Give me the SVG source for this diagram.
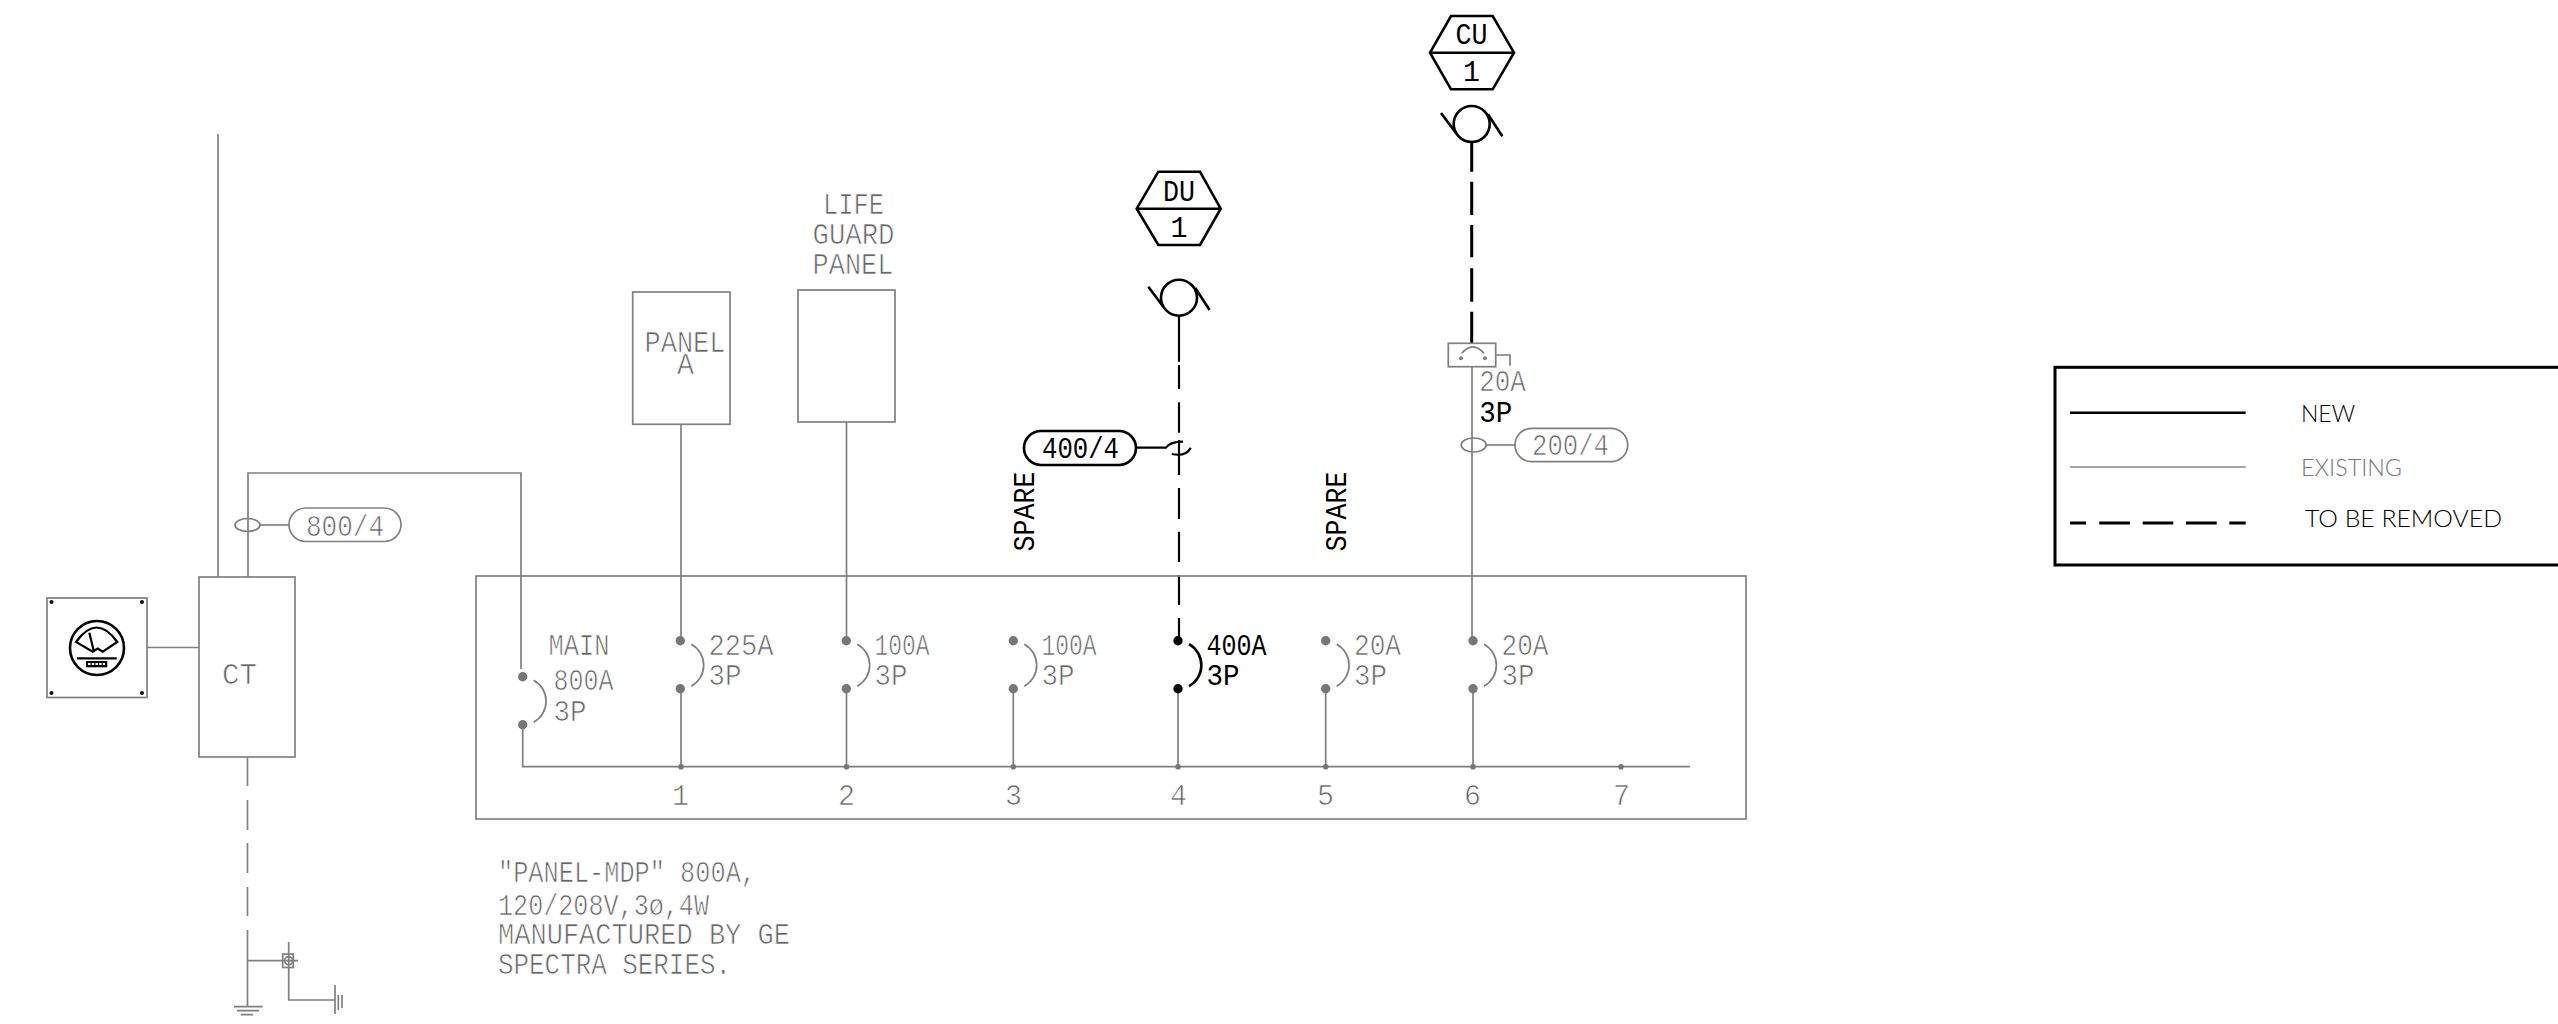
<svg xmlns="http://www.w3.org/2000/svg" xmlns:xlink="http://www.w3.org/1999/xlink" width="2558" height="1024" viewBox="0 0 2558 1024">
<defs>
<style>
.g{fill:none;stroke:#808080;stroke-width:1.7}
.k{fill:none;stroke:#000;stroke-width:2.6}
.kf{fill:none;stroke:#000;stroke-width:2.2}
text{font-family:"Liberation Mono",monospace;font-size:30px}
.tg{fill:#666;stroke:#fff;stroke-width:.7}
.tk{fill:#000}
.lg{font-family:"Lato","Open Sans",sans-serif;font-size:24px;font-weight:300;stroke:none}
</style>
<g id="brk-g"><path class="g" d="M11 3.5A24 24 0 0 1 11 45.500"/><circle r="4.700" fill="#777"/><circle cy="48" r="4.700" fill="#777"/></g>
<g id="brk-k"><path class="k" d="M11 3.5A24 24 0 0 1 11 45.500"/><circle r="4.700" fill="#000"/><circle cy="48" r="4.700" fill="#000"/></g>
<g id="sw"><circle cx="0" cy="0" r="18"/><path d="M-30.700 -11L-15.700 9M16.300 -9.700L30.600 12.300"/></g>
</defs>

<rect width="2558" height="1024" fill="#fff"/>

<g id="connectors">
<path class="g" d="M218 134V577M248 577V473H521V669"/>
<path class="g" d="M147 647.500H199"/>
<path class="g" d="M247.500 757V786M247.500 800V830M247.500 843V873M247.500 887V916M247.500 930V1006.700"/>
<path class="g" d="M247.500 960.700H298M288.700 942V1000H335"/>
<path class="g" d="M522.700 724.700V766.700H1690"/>
<path class="g" d="M681 424.300V640.700M681 688.700V766.700"/>
<path class="g" d="M846.500 422V640.700M846.500 688.700V766.700"/>
<path class="g" d="M1013.300 688.700V766.700"/>
<path class="g" d="M1178 688.700V766.700"/>
<path class="g" d="M1325.700 688.700V766.700"/>
<path class="g" d="M1472 366.700V640.700M1473 688.700V766.700"/>
<path class="kf" d="M1179 316V361.700M1179 365V389M1179 402.300V432.700M1179 440V475M1179 488V519M1179 531.700V562M1179 575V605M1179 618V640"/>
<path class="k" style="stroke-width:3" d="M1471.700 142V171.700M1471.700 181.700V215M1471.700 225V257.300M1471.700 268.300V301.700M1471.700 311.700V343.300"/>
<path class="g" d="M260 525H289"/>
<path class="g" d="M1486 445H1515"/>
<path class="kf" d="M1136 447.700H1166Q1170 441.700 1183 441.700M1171.700 454Q1186 457 1190.700 447.700"/>
</g>

<g id="meter">
<rect class="g" x="47" y="598" width="100" height="99.500"/>
<g fill="#111"><circle cx="51.500" cy="602" r="2"/><circle cx="142" cy="602" r="2"/><circle cx="51.500" cy="693" r="2"/><circle cx="142" cy="693" r="2"/></g>
<circle class="k" cx="97" cy="648" r="27"/>
<path class="kf" d="M76 642Q96.700 613 117.300 642L102.700 651.700L97.700 648.500L92.700 651.700ZM89.300 632.700L94 651.700"/>
<path class="kf" d="M77 658.300H116.700"/>
<rect x="86" y="661" width="21.300" height="6.300" fill="#000"/>
<path d="M88 664H105" stroke="#fff" stroke-width="2.200" stroke-dasharray="2.500 1.200" fill="none"/>
</g>

<g id="ct">
<rect class="g" x="199" y="577" width="96" height="180"/>
<text class="tg" x="222" y="684" textLength="35" lengthAdjust="spacingAndGlyphs">CT</text>
</g>

<g id="wire-800-4">
<ellipse class="g" cx="247.500" cy="525" rx="12.500" ry="6.500"/>
<rect class="g" x="289" y="508" width="112" height="33.500" rx="16.700"/>
<text class="tg" x="306" y="535.500" textLength="78" lengthAdjust="spacingAndGlyphs">800/4</text>
</g>

<g id="ground">
<path class="g" d="M234 1006.700H262.700M237 1010.700H259M240.700 1014.700H253M335 985V1014M338.300 995V1010M342 995V1008"/>
<rect class="g" x="282.700" y="954" width="10.600" height="13.500"/>
<circle class="g" cx="288.700" cy="960.700" r="4"/>
</g>

<g id="panel-a">
<rect class="g" x="632.700" y="292" width="97.300" height="132.300"/>
<text class="tg" x="644.500" y="352.300" textLength="81" lengthAdjust="spacingAndGlyphs">PANEL</text>
<text class="tg" x="677" y="374" textLength="17" lengthAdjust="spacingAndGlyphs">A</text>
</g>

<g id="life-guard-panel">
<rect class="g" x="798" y="290" width="97" height="132"/>
<text class="tg" x="823" y="214.300" textLength="61" lengthAdjust="spacingAndGlyphs">LIFE</text>
<text class="tg" x="812.500" y="244" textLength="82" lengthAdjust="spacingAndGlyphs">GUARD</text>
<text class="tg" x="812.500" y="274" textLength="81" lengthAdjust="spacingAndGlyphs">PANEL</text>
</g>

<g id="panel-mdp">
<rect class="g" x="476" y="576" width="1270" height="243"/>
<circle cx="681" cy="766.700" r="2.800" fill="#777"/><circle cx="846.500" cy="766.700" r="2.800" fill="#777"/><circle cx="1013.300" cy="766.700" r="2.800" fill="#777"/><circle cx="1178" cy="766.700" r="2.800" fill="#777"/><circle cx="1325.700" cy="766.700" r="2.800" fill="#777"/><circle cx="1473" cy="766.700" r="2.800" fill="#777"/><circle cx="1621" cy="766.700" r="2.800" fill="#777"/>
<text class="tg" x="672" y="805" textLength="17" lengthAdjust="spacingAndGlyphs">1</text>
<text class="tg" x="838" y="805" textLength="17" lengthAdjust="spacingAndGlyphs">2</text>
<text class="tg" x="1005" y="805" textLength="17" lengthAdjust="spacingAndGlyphs">3</text>
<text class="tg" x="1170" y="805" textLength="17" lengthAdjust="spacingAndGlyphs">4</text>
<text class="tg" x="1317" y="805" textLength="17" lengthAdjust="spacingAndGlyphs">5</text>
<text class="tg" x="1464" y="805" textLength="17" lengthAdjust="spacingAndGlyphs">6</text>
<text class="tg" x="1613" y="805" textLength="17" lengthAdjust="spacingAndGlyphs">7</text>
</g>

<g id="breaker-main">
<use href="#brk-g" x="522.700" y="676.700"/>
<text class="tg" x="548.500" y="655" textLength="61" lengthAdjust="spacingAndGlyphs">MAIN</text>
<text class="tg" x="553.500" y="690" textLength="60" lengthAdjust="spacingAndGlyphs">800A</text>
<text class="tg" x="553.500" y="721" textLength="33" lengthAdjust="spacingAndGlyphs">3P</text>
</g>
<g id="breaker-1">
<use href="#brk-g" x="680.300" y="640.700"/>
<text class="tg" x="708.500" y="654.700" textLength="65" lengthAdjust="spacingAndGlyphs">225A</text>
<text class="tg" x="708.500" y="685" textLength="33" lengthAdjust="spacingAndGlyphs">3P</text>
</g>
<g id="breaker-2">
<use href="#brk-g" x="846.300" y="640.700"/>
<text class="tg" x="874.500" y="654.700" textLength="55" lengthAdjust="spacingAndGlyphs">100A</text>
<text class="tg" x="874.500" y="685" textLength="33" lengthAdjust="spacingAndGlyphs">3P</text>
</g>
<g id="breaker-3">
<use href="#brk-g" x="1013.300" y="640.700"/>
<text class="tg" x="1041.500" y="654.700" textLength="55" lengthAdjust="spacingAndGlyphs">100A</text>
<text class="tg" x="1041.500" y="685" textLength="33" lengthAdjust="spacingAndGlyphs">3P</text>
</g>
<g id="breaker-4">
<use href="#brk-k" x="1178" y="640.700"/>
<text class="tk" x="1206.500" y="654.700" textLength="60" lengthAdjust="spacingAndGlyphs">400A</text>
<text class="tk" x="1206.500" y="685" textLength="33" lengthAdjust="spacingAndGlyphs">3P</text>
</g>
<g id="breaker-5">
<use href="#brk-g" x="1325.700" y="640.700"/>
<text class="tg" x="1354" y="654.700" textLength="47" lengthAdjust="spacingAndGlyphs">20A</text>
<text class="tg" x="1354" y="685" textLength="33" lengthAdjust="spacingAndGlyphs">3P</text>
</g>
<g id="breaker-6">
<use href="#brk-g" x="1473" y="640.700"/>
<text class="tg" x="1501.500" y="654.700" textLength="47" lengthAdjust="spacingAndGlyphs">20A</text>
<text class="tg" x="1501.500" y="685" textLength="33" lengthAdjust="spacingAndGlyphs">3P</text>
</g>

<g id="spare-3"><text class="tk" transform="translate(1034.300 551.500) rotate(-90)" textLength="80" lengthAdjust="spacingAndGlyphs">SPARE</text></g>
<g id="spare-5"><text class="tk" transform="translate(1345.700 551.500) rotate(-90)" textLength="80" lengthAdjust="spacingAndGlyphs">SPARE</text></g>

<g id="tag-du">
<path class="k" d="M1158.300 171.700H1200L1220.700 208.700L1200 245H1158.300L1136.700 208.700ZM1136.700 208.700H1220.700"/>
<text class="tk" x="1163" y="200.700" textLength="32" lengthAdjust="spacingAndGlyphs">DU</text>
<text class="tk" x="1170.500" y="236.700" textLength="17" lengthAdjust="spacingAndGlyphs">1</text>
</g>
<g id="switch-du"><use href="#sw" x="1179" y="297.700" class="k"/></g>

<g id="wire-400-4">
<rect class="k" x="1024" y="431" width="112" height="34" rx="17"/>
<text class="tk" x="1042" y="458.300" textLength="77" lengthAdjust="spacingAndGlyphs">400/4</text>
</g>

<g id="tag-cu">
<path class="k" d="M1451 16H1492.700L1514 52.700L1492.700 89.300H1451L1430 52.700ZM1430 52.700H1514"/>
<text class="tk" x="1455.500" y="44" textLength="32" lengthAdjust="spacingAndGlyphs">CU</text>
<text class="tk" x="1463" y="80.700" textLength="17" lengthAdjust="spacingAndGlyphs">1</text>
</g>
<g id="switch-cu"><use href="#sw" x="1471.700" y="124" class="k"/></g>

<g id="disconnect-cu">
<rect class="g" x="1448.300" y="343.300" width="47.400" height="23.400"/>
<path class="g" d="M1461.700 353.300Q1472.700 340.500 1484 353.300M1495.700 355H1510V365.700"/>
<circle cx="1461" cy="358.300" r="2" fill="#808080"/><circle cx="1485" cy="358.300" r="2" fill="#808080"/>
<text class="tg" x="1479.200" y="390.700" textLength="46.500" lengthAdjust="spacingAndGlyphs">20A</text>
<text class="tk" x="1479.200" y="421.700" textLength="33" lengthAdjust="spacingAndGlyphs">3P</text>
</g>

<g id="wire-200-4">
<ellipse class="g" cx="1473.700" cy="445" rx="12.500" ry="7"/>
<rect class="g" x="1515" y="428.300" width="112.700" height="33.400" rx="16.700"/>
<text class="tg" x="1532" y="455" textLength="77" lengthAdjust="spacingAndGlyphs">200/4</text>
</g>

<g id="panel-note">
<text class="tg" x="498" y="882.300" textLength="258" lengthAdjust="spacingAndGlyphs">"PANEL-MDP" 800A,</text>
<text class="tg" x="498" y="915" textLength="211" lengthAdjust="spacingAndGlyphs">120/208V,3ø,4W</text>
<text class="tg" x="498" y="944.300" textLength="292" lengthAdjust="spacingAndGlyphs">MANUFACTURED BY GE</text>
<text class="tg" x="498" y="974.300" textLength="233" lengthAdjust="spacingAndGlyphs">SPECTRA SERIES.</text>
</g>

<g id="legend">
<rect x="2055" y="367.300" width="520" height="197.700" fill="none" stroke="#000" stroke-width="3"/>
<path d="M2070 412.700H2245.700" fill="none" stroke="#000" stroke-width="2.500"/>
<path d="M2070 467H2245.700" fill="none" stroke="#888" stroke-width="1.500"/>
<path d="M2070 523H2086M2099.300 523H2130M2142.700 523H2173.300M2186 523H2216.700M2229.300 523H2245.700" fill="none" stroke="#000" stroke-width="3"/>
<text class="lg" x="2301" y="422.300" fill="#000" textLength="54" lengthAdjust="spacingAndGlyphs">NEW</text>
<text class="lg" x="2301" y="476" fill="#777" textLength="101" lengthAdjust="spacingAndGlyphs">EXISTING</text>
<text class="lg" x="2305" y="527.300" fill="#000" textLength="197" lengthAdjust="spacingAndGlyphs">TO BE REMOVED</text>
</g>
</svg>
